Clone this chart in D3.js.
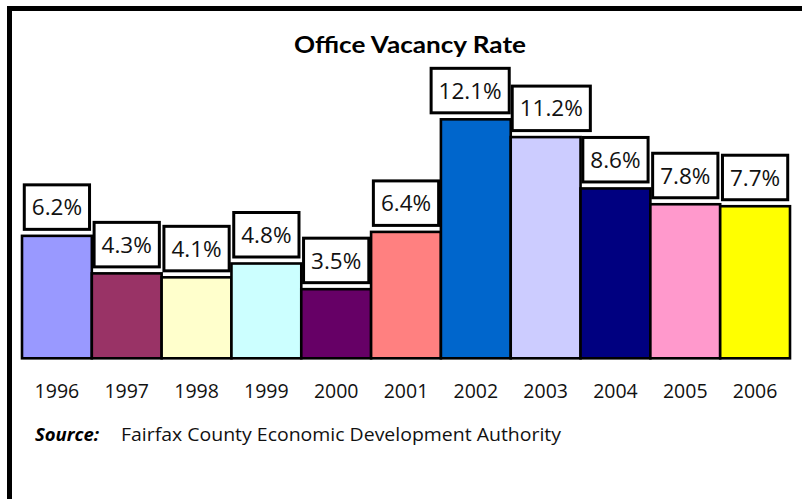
<!DOCTYPE html>
<html>
<head>
<meta charset="utf-8">
<script src="https://cdn.jsdelivr.net/npm/d3@7"></script>
<style>
  html, body { margin: 0; padding: 0; background: #fff; overflow: hidden; width: 802px; height: 499px; }
  svg { display: block; }
</style>
</head>
<body>
<svg id="chart" width="802" height="499"></svg>
<script>
// Office vacancy rate by year (percent)
const years = ["1996", "1997", "1998", "1999", "2000", "2001", "2002", "2003", "2004", "2005", "2006"];
const vacancyRates = [6.2, 4.3, 4.1, 4.8, 3.5, 6.4, 12.1, 11.2, 8.6, 7.8, 7.7];
const barColors = ["#9999FF", "#993366", "#FFFFCC", "#CCFFFF", "#660066", "#FF8080",
                   "#0066CC", "#CCCCFF", "#000080", "#FF99CC", "#FFFF00"];
const titleText = "Office Vacancy Rate";
const sourceLabel = "Source:";
const sourceText = "Fairfax County Economic Development Authority";

const svg = d3.select("#chart");
const W = 802, H = 499;

// page background
svg.append("rect").attr("width", W).attr("height", H).attr("fill", "#fff");

// outer frame: top and left edges only, running off the page
svg.append("path")
  .attr("d", `M9.5,${H + 20} L9.5,8.5 L${W + 20},8.5`)
  .attr("fill", "none")
  .attr("stroke", "#000").attr("stroke-width", 5);

// title
svg.append("text")
  .attr("x", 410).attr("y", 53)
  .attr("text-anchor", "middle")
  .attr("font-family", "Lato, 'Open Sans', sans-serif")
  .attr("font-weight", "bold")
  .attr("font-size", 23)
  .attr("textLength", 232)
  .attr("lengthAdjust", "spacingAndGlyphs")
  .attr("fill", "#000")
  .text(titleText);

const baseY = 358.3;
const x = d3.scaleBand().domain(years).range([22, 790]).padding(0);
const y = d3.scaleLinear().domain([0, 14]).range([baseY, baseY - 14 * 19.75]);

const data = years.map((yr, i) => ({ year: yr, value: vacancyRates[i], color: barColors[i] }));

// bars
svg.append("g").selectAll("rect")
  .data(data)
  .join("rect")
  .attr("x", d => x(d.year))
  .attr("y", d => y(d.value))
  .attr("width", x.bandwidth())
  .attr("height", d => y(0) - y(d.value))
  .attr("fill", d => d.color)
  .attr("stroke", "#000")
  .attr("stroke-width", 2.6);

// year labels along the base
svg.append("g").selectAll("text")
  .data(data)
  .join("text")
  .attr("x", d => x(d.year) + x.bandwidth() / 2)
  .attr("y", 398)
  .attr("text-anchor", "middle")
  .attr("font-family", "'Open Sans', sans-serif")
  .attr("font-size", 19.5)
  .attr("fill", "#111")
  .text(d => d.year);

// value labels in boxed callouts above each bar
const labelFont = 22.5;
const boxH = 44.5, padX = 7.5, boxGap = 6.5;
const labelG = svg.append("g");
const labels = data.map(d => {
  const t = labelG.append("text")
    .attr("font-family", "'Open Sans', sans-serif")
    .attr("font-size", labelFont)
    .attr("fill", "#111")
    .attr("text-anchor", "middle")
    .text(d.value.toFixed(1) + "%");
  const w = t.node().getComputedTextLength() + 2 * padX;
  const cx = x(d.year) + x.bandwidth() / 2;
  const bottom = y(d.value) - boxGap;
  return { t, w, cx, top: bottom - boxH, bottom };
});

// nudge neighbouring boxes apart where they would collide
for (let iter = 0; iter < 10; iter++) {
  for (let i = 0; i < labels.length - 1; i++) {
    const a = labels[i], b = labels[i + 1];
    const vOverlap = a.top < b.bottom && b.top < a.bottom;
    const overlap = (a.cx + a.w / 2 + 3) - (b.cx - b.w / 2);
    if (vOverlap && overlap > 0) {
      a.cx -= overlap / 2;
      b.cx += overlap / 2;
    }
  }
}

labels.forEach(l => {
  labelG.insert("rect", "text")
    .attr("x", l.cx - l.w / 2)
    .attr("y", l.top)
    .attr("width", l.w)
    .attr("height", boxH)
    .attr("fill", "#fff")
    .attr("stroke", "#000")
    .attr("stroke-width", 3);
  l.t.attr("x", l.cx).attr("y", (l.top + l.bottom) / 2 + labelFont * 0.36);
});

// source note
const src = svg.append("text")
  .attr("x", 35).attr("y", 441)
  .attr("font-family", "'Open Sans', sans-serif")
  .attr("font-size", 18.5)
  .attr("fill", "#111");
src.append("tspan")
  .attr("font-weight", "bold")
  .attr("font-style", "italic")
  .attr("fill", "#000")
  .text(sourceLabel);
src.append("tspan")
  .attr("x", 121)
  .attr("textLength", 440)
  .attr("lengthAdjust", "spacingAndGlyphs")
  .text(sourceText);
</script>
</body>
</html>
